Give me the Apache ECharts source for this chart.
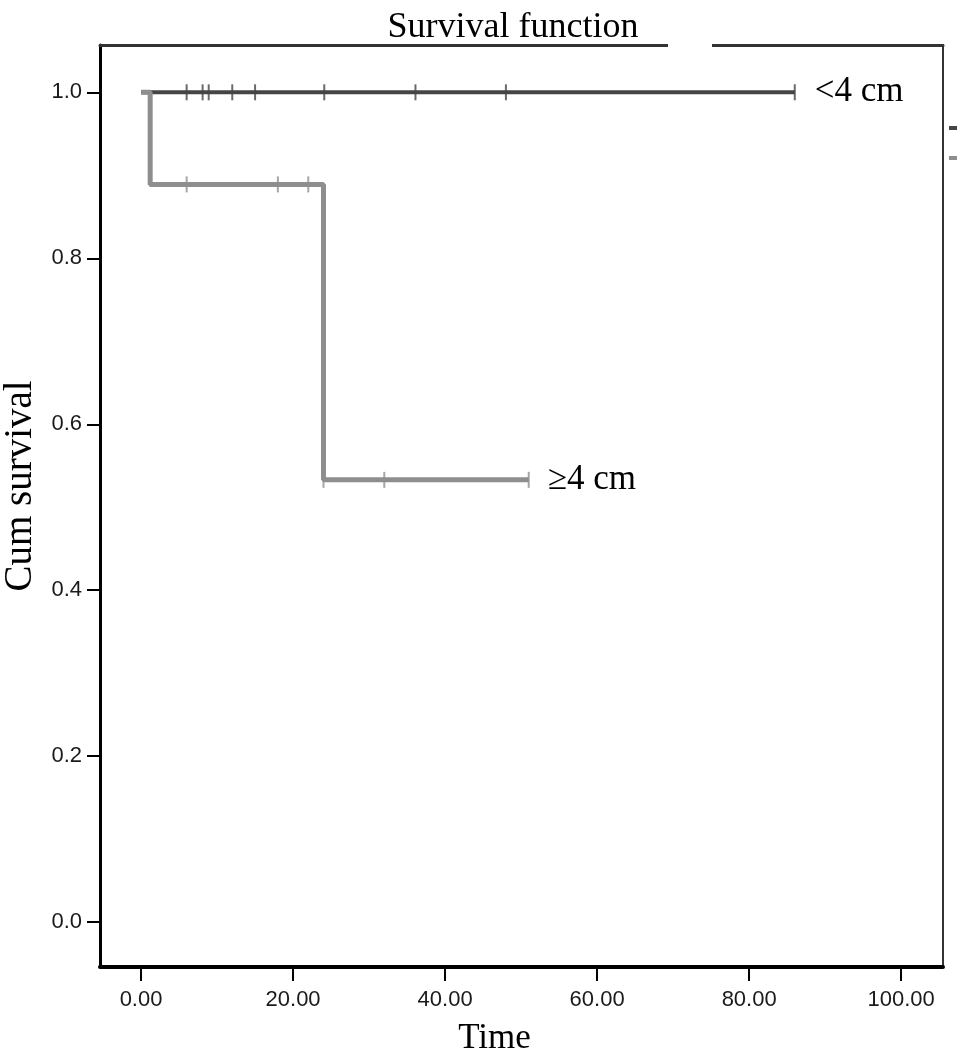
<!DOCTYPE html>
<html>
<head>
<meta charset="utf-8">
<script src="https://cdn.jsdelivr.net/npm/echarts@6/dist/echarts.min.js"></script>
<style>
  html, body { margin: 0; padding: 0; background: #fff; }
  #survChart { width: 969px; height: 1062px; }
</style>
</head>
<body>
<div id="survChart"></div>
<script>
// Kaplan-Meier steps
const smallTime = [0, 86];
const smallSurv = [1.0, 1.0];
const smallCensor = [6, 8.1, 8.9, 12, 15, 24.1, 36.1, 48, 86];

const largeTime = [0, 1.2, 24, 51];
const largeSurv = [1.0, 0.889, 0.533, 0.533];
const largeCensorTime = [6, 18, 22, 24, 32, 51];
const largeCensorSurv = [0.889, 0.889, 0.889, 0.533, 0.533, 0.533];

const xTicks = [0, 20, 40, 60, 80, 100];
const yTicks = [0, 0.2, 0.4, 0.6, 0.8, 1.0];

const serif = "Liberation Serif";
const sans = "Liberation Sans";

let myChart = echarts.init(document.getElementById("survChart"));

const zip = (xs, ys) => xs.map((x, i) => [x, ys[i]]);

let option = {
  backgroundColor: "#fff",
  animation: false,
  title: {
    text: "Survival function",
    left: 508,
    top: 5,
    textAlign: "center",
    textStyle: { fontFamily: serif, fontSize: 36, fontWeight: "normal", color: "#000" },
  },
  legend: {
    orient: "vertical",
    left: 944,
    top: 114,
    itemWidth: 8,
    itemHeight: 4,
    itemGap: 12,
    icon: "rect",
    textStyle: { fontSize: 18, color: "#000", padding: [0, 0, 0, 30] },
    data: ["<4 cm", "≥4 cm"],
  },
  grid: { left: 100, right: 26, top: 45, bottom: 95, outerBoundsMode: "none" },
  xAxis: [
    {
      type: "value",
      min: -5.4,
      max: 105.5,
      name: "Time",
      nameLocation: "middle",
      nameGap: 54,
      nameTextStyle: { fontFamily: serif, fontSize: 35, color: "#000", padding: [0, 54, 0, 0] },
      splitLine: { show: false },
      axisLine: { onZero: false, lineStyle: { color: "#000", width: 4 } },
      axisTick: { customValues: xTicks, length: 14, lineStyle: { color: "#000", width: 2 } },
      axisLabel: {
        customValues: xTicks,
        margin: 22,
        fontFamily: sans,
        fontSize: 22,
        color: "#1a1a1a",
        formatter: (v) => v.toFixed(2),
      },
    },
    {
      type: "value",
      position: "top",
      min: -5.4,
      max: 105.5,
      splitLine: { show: false },
      axisLine: { onZero: false, lineStyle: { color: "#333", width: 3 } },
      axisTick: { show: false },
      axisLabel: { show: false },
    },
  ],
  yAxis: [
    {
      type: "value",
      min: -0.054,
      max: 1.057,
      name: "Cum survival",
      nameLocation: "middle",
      nameGap: 55,
      nameTextStyle: { fontFamily: serif, fontSize: 39, color: "#000", padding: [0, 0, 0, 40] },
      splitLine: { show: false },
      axisLine: { onZero: false, lineStyle: { color: "#000", width: 3 } },
      axisTick: { customValues: yTicks, length: 13, lineStyle: { color: "#000", width: 2 } },
      axisLabel: {
        customValues: yTicks,
        margin: 18,
        fontFamily: sans,
        fontSize: 22,
        color: "#1a1a1a",
        formatter: (v) => v.toFixed(1),
      },
    },
    {
      type: "value",
      position: "right",
      min: -0.054,
      max: 1.057,
      splitLine: { show: false },
      axisLine: { onZero: false, lineStyle: { color: "#333", width: 2 } },
      axisTick: { show: false },
      axisLabel: { show: false },
    },
  ],
  graphic: [
    // the gap in the frame's top edge
    { type: "rect", shape: { x: 668, y: 40, width: 44, height: 12 }, style: { fill: "#fff" }, z: 100 },
  ],
  series: [
    {
      name: "<4 cm",
      type: "line",
      step: "end",
      symbol: "none",
      data: zip(smallTime, smallSurv),
      lineStyle: { color: "#454545", width: 4 },
      itemStyle: { color: "#454545" },
      endLabel: {
        show: true,
        formatter: "<4 cm",
        distance: 20,
        fontFamily: serif,
        fontSize: 35,
        color: "#000",
      },
      z: 2,
    },
    {
      name: "<4 cm",
      type: "scatter",
      symbol: "rect",
      symbolSize: [2, 16],
      data: smallCensor.map((t) => [t, 1.0]),
      itemStyle: { color: "#454545" },
      z: 4,
    },
    {
      name: "≥4 cm",
      type: "line",
      step: "end",
      symbol: "none",
      data: zip(largeTime, largeSurv),
      lineStyle: { color: "#8e8e8e", width: 5 },
      itemStyle: { color: "#8e8e8e" },
      endLabel: {
        show: true,
        formatter: "≥4 cm",
        distance: 19,
        fontFamily: serif,
        fontSize: 35,
        color: "#000",
      },
      z: 3,
    },
    {
      name: "≥4 cm",
      type: "scatter",
      symbol: "rect",
      symbolSize: [2, 16],
      data: zip(largeCensorTime, largeCensorSurv),
      itemStyle: { color: "#8e8e8e" },
      z: 4,
    },
  ],
};

myChart.setOption(option && option);
</script>
</body>
</html>
